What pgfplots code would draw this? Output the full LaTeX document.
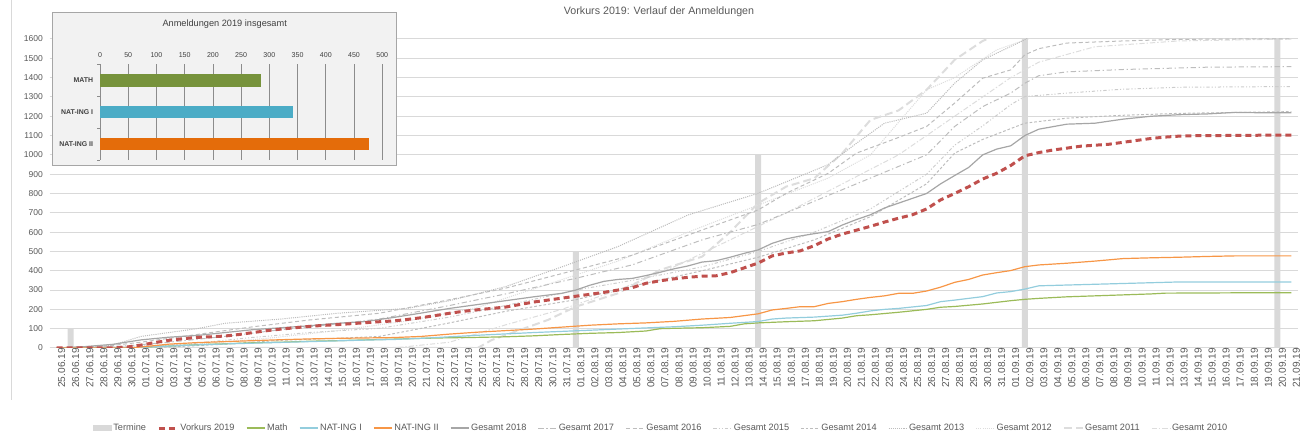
\documentclass[border=0pt]{standalone}
\usepackage{fontspec}
\setmainfont{Liberation Sans}
\usepackage{pgfplots}
\pgfplotsset{compat=1.18}
\definecolor{gridc}{HTML}{D9D9D9}
\definecolor{txt}{HTML}{595959}
\definecolor{dark}{HTML}{404040}
\definecolor{vk}{HTML}{C0504D}
\definecolor{mathc}{HTML}{9BBB59}
\definecolor{nat1}{HTML}{93CDDD}
\definecolor{nat2}{HTML}{F79646}
\definecolor{g18}{HTML}{A6A6A6}
\definecolor{gm}{HTML}{BDBDBD}
\definecolor{gl}{HTML}{CCCCCC}
\definecolor{gll}{HTML}{DDDDDD}
\definecolor{termine}{HTML}{D9D9D9}
\definecolor{insetbg}{HTML}{F2F2F2}
\definecolor{insetgrid}{HTML}{8C8C8C}
\definecolor{barmath}{HTML}{77933C}
\definecolor{barnat1}{HTML}{4BACC6}
\definecolor{barnat2}{HTML}{E46C0A}
\begin{document}
\begin{tikzpicture}
\path[use as bounding box] (-37.275pt,-68.25pt) rectangle (940.725pt,261pt);
\draw[gridc, line width=0.75pt] (-28.3pt,261pt) -- (-28.3pt,-39pt);
\begin{axis}[
  at={(0pt,0pt)}, anchor=south west,
  width=936.5pt, height=231.75pt, scale only axis,
  xmin=-0.5, xmax=88.5, ymin=0, ymax=1600,
  ytick={0,100,...,1600},
  ymajorgrids, grid style={gridc, line width=0.75pt},
  axis lines*=left,
  x axis line style={draw=gridc, line width=0.75pt},
  y axis line style={draw=none},
  major tick length=0pt, tick style={draw=none},
  /pgf/number format/assume math mode=true,
  /pgf/number format/1000 sep={},
  tick label style={font=\fontsize{6.4}{7}\selectfont, color=txt},
  yticklabel style={anchor=east, inner sep=0pt, xshift=-5pt},
  xtick={0,...,88},
  xticklabels={25.06.19,26.06.19,27.06.19,28.06.19,29.06.19,30.06.19,
  01.07.19,02.07.19,03.07.19,04.07.19,05.07.19,06.07.19,07.07.19,08.07.19,09.07.19,10.07.19,
  11.07.19,12.07.19,13.07.19,14.07.19,15.07.19,16.07.19,17.07.19,18.07.19,19.07.19,20.07.19,
  21.07.19,22.07.19,23.07.19,24.07.19,25.07.19,26.07.19,27.07.19,28.07.19,29.07.19,30.07.19,31.07.19,
  01.08.19,02.08.19,03.08.19,04.08.19,05.08.19,06.08.19,07.08.19,08.08.19,09.08.19,10.08.19,
  11.08.19,12.08.19,13.08.19,14.08.19,15.08.19,16.08.19,17.08.19,18.08.19,19.08.19,20.08.19,
  21.08.19,22.08.19,23.08.19,24.08.19,25.08.19,26.08.19,27.08.19,28.08.19,29.08.19,30.08.19,31.08.19,
  01.09.19,02.09.19,03.09.19,04.09.19,05.09.19,06.09.19,07.09.19,08.09.19,09.09.19,10.09.19,
  11.09.19,12.09.19,13.09.19,14.09.19,15.09.19,16.09.19,17.09.19,18.09.19,19.09.19,20.09.19,21.09.19},
  xticklabel style={rotate=90, anchor=east, inner sep=0pt, yshift=-3.75pt, font=\fontsize{7.6}{8}\selectfont},
  legend style={at={(0.4896,-0.259)}, anchor=center, draw=none, fill=none,
    legend columns=-1, font=\fontsize{6.9}{8}\selectfont, text=txt,
    nodes={inner sep=1pt},
    /tikz/every even column/.append style={column sep=7.5pt}},
  legend image code/.code={\draw[#1] (0pt,0pt) -- (14pt,0pt);},
]
% legend images
\addlegendimage{legend image code/.code={\fill[termine] (0pt,-2pt) rectangle (13.5pt,2pt);}}
\addlegendentry{Termine}
\addlegendimage{vk, line width=2.25pt, dash pattern=on 4.5pt off 3pt}
\addlegendentry{Vorkurs 2019}
\addlegendimage{mathc, line width=0.9pt}
\addlegendentry{Math}
\addlegendimage{nat1, line width=0.9pt}
\addlegendentry{NAT-ING I}
\addlegendimage{nat2, line width=0.9pt}
\addlegendentry{NAT-ING II}
\addlegendimage{g18, line width=0.9pt}
\addlegendentry{Gesamt 2018}
\addlegendimage{gm, line width=0.75pt, dash pattern=on 4pt off 2pt on 1pt off 2pt}
\addlegendentry{Gesamt 2017}
\addlegendimage{gm, line width=0.75pt, dash pattern=on 3pt off 2pt}
\addlegendentry{Gesamt 2016}
\addlegendimage{gl, line width=0.75pt, dash pattern=on 2.5pt off 1.5pt on 0.8pt off 1.5pt on 0.8pt off 1.5pt}
\addlegendentry{Gesamt 2015}
\addlegendimage{gm, line width=0.75pt, dash pattern=on 2pt off 1.5pt}
\addlegendentry{Gesamt 2014}
\addlegendimage{gm, line width=0.75pt, dash pattern=on 0.8pt off 0.8pt}
\addlegendentry{Gesamt 2013}
\addlegendimage{gll, line width=0.75pt, dash pattern=on 0.8pt off 0.8pt}
\addlegendentry{Gesamt 2012}
\addlegendimage{gll, line width=1.5pt, dash pattern=on 6pt off 3pt}
\addlegendentry{Gesamt 2011}
\addlegendimage{gll, line width=0.75pt, dash pattern=on 4pt off 1.5pt on 1pt off 1.5pt}
\addlegendentry{Gesamt 2010}

% Termine
\addplot[forget plot, ybar, bar width=4.5pt, bar shift=0pt, fill=termine, draw=none]
  coordinates {(1,100) (37,500) (50,1000) (69,1600) (87,1600)};

% Gesamt 2010
\addplot[forget plot, gll, line width=0.75pt, dash pattern=on 4pt off 1.5pt on 1pt off 1.5pt] coordinates {
(0,0)(24,0)(28,30)(32,120)(36,200)(40,300)(44,420)(48,560)(52,700)(56,850)(60,1000)(64,1200)(68,1400)(70,1480)(74,1560)(80,1590)(88,1600)};
% Gesamt 2011
\addplot[forget plot, gll, line width=1.5pt, dash pattern=on 6pt off 3pt] coordinates {
(0,0)(30,0)(31,41)(35,145)(37,214)(40,283)(43,404)(46,473)(48,600)(50,750)(52,836)(54,879)(56,1009)(58,1181)(60,1230)(62,1337)(64,1492)(66,1590)(67,1620)(70,1700)(88,1750)};
% Gesamt 2012
\addplot[forget plot, gll, line width=0.75pt, dash pattern=on 0.8pt off 0.8pt] coordinates {
(0,0)(10,20)(15,50)(20,90)(25,140)(30,210)(35,330)(40,450)(45,600)(50,740)(55,880)(58,1000)(62,1337)(64,1400)(67,1544)(70,1620)(80,1700)(88,1720)};
% Gesamt 2013
\addplot[forget plot, gm, line width=0.75pt, dash pattern=on 0.8pt off 0.8pt] coordinates {
(0,0)(4,15)(6,60)(10,100)(12,128)(16,150)(20,180)(25,205)(28,245)(32,318)(36,420)(40,525)(45,689)(50,801)(55,950)(57,1060)(59,1164)(62,1216)(64,1371)(66,1492)(69,1596)(71,1700)(75,1780)(88,1800)};
% Gesamt 2014
\addplot[forget plot, gm, line width=0.75pt, dash pattern=on 2pt off 1.5pt] coordinates {
(0,0)(8,5)(12,20)(16,40)(20,50)(23,60)(28,130)(32,190)(37,250)(41,320)(46,400)(50,470)(54,560)(58,680)(62,850)(64,1009)(66,1080)(69,1164)(72,1190)(76,1205)(80,1215)(88,1224)};
% Gesamt 2015
\addplot[forget plot, gl, line width=0.75pt, dash pattern=on 2.5pt off 1.5pt on 0.8pt off 1.5pt on 0.8pt off 1.5pt] coordinates {
(0,0)(6,5)(10,25)(14,55)(18,80)(23,102)(28,160)(32,220)(37,300)(41,350)(46,420)(50,500)(54,600)(58,720)(62,900)(64,1050)(66,1150)(68,1260)(69,1302)(72,1320)(76,1340)(80,1350)(88,1354)};
% Gesamt 2016
\addplot[forget plot, gm, line width=0.75pt, dash pattern=on 3pt off 2pt] coordinates {
(0,0)(3,5)(6,30)(10,70)(14,110)(18,145)(23,180)(28,250)(32,310)(37,404)(41,480)(46,611)(50,715)(52,801)(55,905)(57,1009)(60,1090)(62,1147)(64,1268)(66,1397)(68,1440)(69,1518)(70,1550)(72,1579)(76,1590)(80,1598)(84,1600)(88,1600)};
% Gesamt 2017
\addplot[forget plot, gm, line width=0.75pt, dash pattern=on 4pt off 2pt on 1pt off 2pt] coordinates {
(0,0)(4,5)(8,30)(12,60)(16,95)(20,125)(23,150)(28,220)(32,280)(37,361)(41,430)(46,560)(50,640)(54,760)(58,880)(62,1000)(64,1147)(66,1250)(68,1320)(69,1371)(70,1410)(72,1430)(76,1442)(82,1454)(88,1457)};
% Gesamt 2018
\addplot[forget plot, g18, line width=0.9pt] coordinates {
(0,0)(2,7)(4,19)(6,42)(8,56)(10,65)(12,80)(14,95)(16,105)(18,115)(20,128)(22,137)(24,158)(26,181)(28,205)(30,225)(32,245)(34,265)(36,283)(37,300)(38,325)(39,345)(40,355)(41,360)(42,375)(43,392)(44,410)(45,425)(46,445)(47,452)(48,470)(49,490)(50,508)(51,542)(52,565)(53,580)(54,592)(55,603)(56,637)(57,665)(58,690)(59,725)(60,750)(61,775)(62,800)(63,850)(64,893)(65,935)(66,1000)(67,1030)(68,1047)(69,1100)(70,1133)(72,1159)(74,1164)(76,1185)(78,1200)(80,1208)(82,1212)(84,1220)(86,1218)(88,1218)};
% Math
\addplot[forget plot, mathc, line width=0.9pt] coordinates {
(0,0)(5,0)(6,3)(8,10)(10,17)(12,22)(14,27)(16,30)(18,35)(20,38)(22,42)(24,46)(26,50)(28,53)(30,55)(32,58)(34,63)(36,70)(38,76)(40,80)(42,88)(43,100)(44,102)(46,105)(48,112)(49,125)(50,130)(52,136)(54,141)(56,155)(57,167)(58,172)(60,185)(62,200)(63,211)(64,215)(66,228)(68,245)(69,252)(70,257)(72,265)(74,270)(76,275)(78,280)(79,284)(82,285)(85,286)(88,286)};
% NAT-ING I
\addplot[forget plot, nat1, line width=0.9pt] coordinates {
(0,0)(5,0)(6,3)(8,10)(10,16)(12,21)(14,25)(16,29)(18,33)(20,37)(22,41)(24,44)(26,50)(28,58)(30,66)(32,73)(34,80)(36,86)(38,92)(40,98)(42,104)(44,110)(46,118)(48,128)(50,137)(51,150)(52,155)(54,160)(56,170)(57,180)(58,192)(59,200)(60,205)(62,220)(63,240)(64,248)(66,266)(67,285)(68,292)(69,305)(70,322)(72,326)(74,330)(76,334)(78,338)(80,342)(84,342)(88,342)};
% NAT-ING II
\addplot[forget plot, nat2, line width=0.9pt] coordinates {
(0,0)(5,0)(6,5)(8,20)(10,28)(12,33)(14,38)(16,43)(18,47)(20,50)(22,52)(24,54)(26,60)(28,72)(30,82)(32,90)(34,98)(36,108)(38,118)(40,125)(42,130)(44,138)(46,150)(48,158)(50,177)(51,197)(52,205)(53,214)(54,214)(55,231)(56,240)(57,252)(58,262)(59,270)(60,283)(61,283)(62,295)(63,315)(64,340)(65,355)(66,378)(67,390)(68,401)(69,421)(70,430)(72,439)(74,450)(76,463)(78,467)(80,470)(82,474)(84,477)(88,477)};
% Vorkurs 2019
\addplot[forget plot, vk, line width=2.25pt, dash pattern=on 4.5pt off 3pt] coordinates {
(0,0)(1,0)(2,0)(3,0)(4,0)(5,5)(6,15)(7,28)(8,40)(9,48)(10,55)(11,58)(12,62)(13,70)(14,80)(15,90)(16,98)(17,105)(18,112)(19,117)(20,121)(21,126)(22,131)(23,136)(24,140)(25,148)(26,157)(27,168)(28,180)(29,190)(30,198)(31,205)(32,212)(33,225)(34,238)(35,248)(36,258)(37,268)(38,278)(39,288)(40,300)(41,312)(42,335)(43,348)(44,358)(45,366)(46,372)(47,374)(48,390)(49,415)(50,440)(51,477)(52,492)(53,503)(54,530)(55,565)(56,590)(57,610)(58,630)(59,652)(60,672)(61,690)(62,720)(63,767)(64,800)(65,835)(66,875)(67,905)(68,945)(69,995)(70,1012)(71,1025)(72,1035)(73,1045)(74,1050)(75,1055)(76,1065)(77,1075)(78,1085)(79,1092)(80,1097)(81,1099)(82,1100)(83,1100)(84,1101)(85,1101)(86,1102)(87,1102)(88,1102)};
\end{axis}
% title
\node[font=\fontsize{8}{9.6}\selectfont, text=txt] at (457pt,252pt) {Vorkurs 2019: Verlauf der Anmeldungen};
% inset
\fill[insetbg, draw=g18, line width=0.75pt] (2.25pt,136.5pt) rectangle (260.25pt,251.5pt);
\node[font=\fontsize{6.9}{8}\selectfont, text=dark] at (131.25pt,243pt) {Anmeldungen 2019 insgesamt};
\begin{axis}[
  at={(37.725pt,141pt)}, anchor=south west,
  width=211.7pt, height=71.8pt, scale only axis,
  xbar, xmin=0, xmax=500, xtick={0,50,...,500},
  ymin=-0.5, ymax=2.5, y dir=reverse,
  ytick={0,1,2}, yticklabels={MATH,NAT-ING I,NAT-ING II},
  minor ytick={-0.5,0.5,1.5,2.5},
  xmajorgrids, grid style={insetgrid, line width=0.6pt},
  axis x line*=top, axis y line*=left,
  x axis line style={draw=none},
  y axis line style={draw=insetgrid, line width=0.6pt},
  major tick length=0pt, minor tick length=2pt, tick align=outside,
  minor tick style={insetgrid, line width=0.6pt},
  /pgf/number format/assume math mode=true,
  xticklabel style={font=\fontsize{5.3}{6}\selectfont, text=dark, anchor=south, inner sep=0pt, yshift=5pt},
  yticklabel style={font=\bfseries\fontsize{5.2}{6}\selectfont, text=dark, anchor=east, inner sep=0pt, xshift=-5pt},
]
\addplot[xbar, bar width=9.5pt, bar shift=0pt, fill=barmath, draw=none] coordinates {(286,0)};
\addplot[xbar, bar width=9.5pt, bar shift=0pt, fill=barnat1, draw=none] coordinates {(342,1)};
\addplot[xbar, bar width=9.5pt, bar shift=0pt, fill=barnat2, draw=none] coordinates {(476,2)};
\node[font=\fontsize{5.3}{6}\selectfont, text=dark] at (rel axis cs:0.496,1) [yshift=15pt] {Anzahl};
\end{axis}
\end{tikzpicture}
\end{document}
